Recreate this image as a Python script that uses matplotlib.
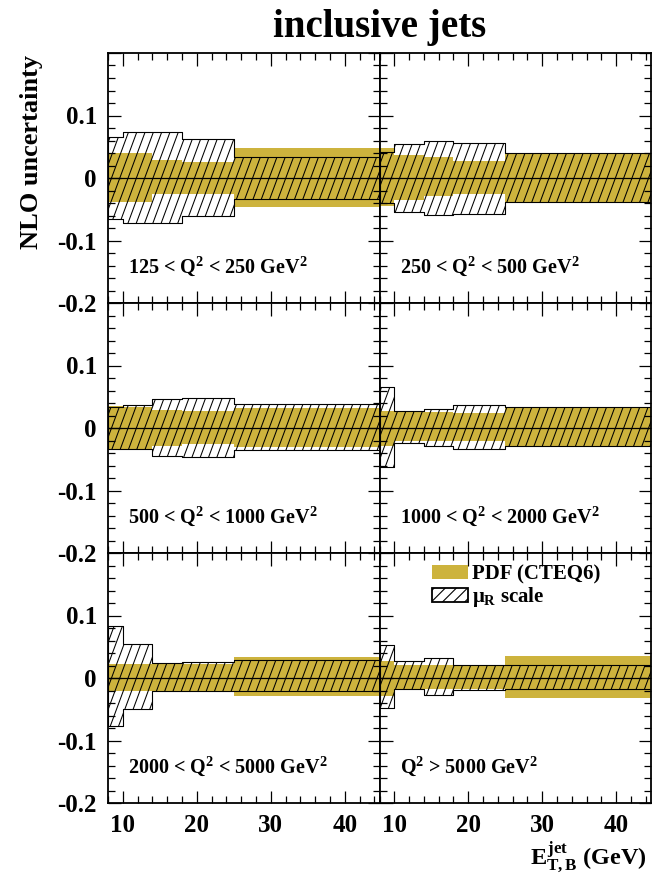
import numpy as np
import matplotlib
matplotlib.use("Agg")
import matplotlib.pyplot as plt
from matplotlib.patches import Patch
from matplotlib.collections import LineCollection
from matplotlib.ticker import MultipleLocator

plt.rcParams['font.family'] = ['Liberation Serif', 'DejaVu Serif']
plt.rcParams['font.weight'] = 'bold'
plt.rcParams['mathtext.fontset'] = 'custom'
plt.rcParams['mathtext.rm'] = 'Liberation Serif:bold'
plt.rcParams['mathtext.it'] = 'Liberation Serif:bold'
plt.rcParams['mathtext.bf'] = 'Liberation Serif:bold'
plt.rcParams['hatch.linewidth'] = 0.8

GOLD = '#cdb33d'

# E_T bin edges (GeV)
edges = [8, 10, 14, 18, 25, 100]

q2_labels = ['125 < Q$^2$ < 250 GeV$^2$', '250 < Q$^2$ < 500 GeV$^2$',
             '500 < Q$^2$ < 1000 GeV$^2$', '1000 < Q$^2$ < 2000 GeV$^2$',
             '2000 < Q$^2$ < 5000 GeV$^2$', 'Q$^2$ > 5000 GeV$^2$']

# renormalisation scale uncertainty
scale_up = [
    [0.065, 0.074, 0.074, 0.062, 0.034],
    [0.042, 0.054, 0.060, 0.056, 0.040],
    [0.033, 0.037, 0.046, 0.048, 0.038],
    [0.065, 0.027, 0.031, 0.037, 0.033],
    [0.083, 0.054, 0.024, 0.026, 0.029],
    [0.053, 0.027, 0.032, 0.021, 0.021],
]
scale_dn = [
    [-0.065, -0.072, -0.072, -0.061, -0.034],
    [-0.040, -0.054, -0.059, -0.057, -0.039],
    [-0.033, -0.034, -0.044, -0.046, -0.035],
    [-0.062, -0.024, -0.028, -0.033, -0.029],
    [-0.077, -0.049, -0.020, -0.020, -0.021],
    [-0.048, -0.017, -0.027, -0.019, -0.018],
]

# PDF (CTEQ6) uncertainty
pdf_up = [
    [0.040, 0.040, 0.029, 0.025, 0.048],
    [0.048, 0.037, 0.034, 0.027, 0.040],
    [0.035, 0.033, 0.029, 0.027, 0.032],
    [0.027, 0.027, 0.026, 0.024, 0.032],
    [0.023, 0.023, 0.023, 0.023, 0.033],
    [0.028, 0.021, 0.021, 0.021, 0.036],
]
pdf_dn = [
    [-0.038, -0.038, -0.025, -0.025, -0.046],
    [-0.045, -0.035, -0.029, -0.025, -0.039],
    [-0.033, -0.033, -0.028, -0.026, -0.031],
    [-0.028, -0.021, -0.021, -0.021, -0.028],
    [-0.020, -0.020, -0.020, -0.020, -0.028],
    [-0.028, -0.017, -0.017, -0.017, -0.032],
]

ytick_vals = [-0.2, -0.1, 0, 0.1, 0.2]
ytick_text = ['-0.2', '-0.1', '0', '0.1', '']

W, H = 652., 876.
col_x = [108, 379.5]
row_y = [303, 553, 803]
pw, ph = 271.5, 250.


def hatch_band(ax, x, lo, hi, spacing=8.3, slope=2.7):
    # outline of the band, then steep hatch lines clipped to it
    poly = ax.fill_between(x, lo, hi, step='post', facecolor='none',
                           edgecolor='k', lw=0.8, zorder=2)
    dx = spacing / pw
    run = (ph / slope) / pw
    starts = np.arange(-run, 1 + dx, dx)
    segs = [[(s, 0), (s + run, 1)] for s in starts]
    lc = LineCollection(segs, colors='k', linewidths=0.75,
                        transform=ax.transAxes, zorder=2)
    ax.add_collection(lc, autolim=False)
    lc.set_clip_path(poly.get_paths()[0], poly.get_transform())


fig = plt.figure(figsize=(6.52, 8.76), dpi=100)

for i in range(6):
    r, c = i // 2, i % 2
    ax = fig.add_axes([col_x[c] / W, (H - row_y[r]) / H, pw / W, ph / H])

    x = np.array(edges)
    pu = np.r_[pdf_up[i], pdf_up[i][-1]]
    pd = np.r_[pdf_dn[i], pdf_dn[i][-1]]
    su = np.r_[scale_up[i], scale_up[i][-1]]
    sd = np.r_[scale_dn[i], scale_dn[i][-1]]

    ax.fill_between(x, pd, pu, step='post', color=GOLD, lw=0, zorder=1)
    hatch_band(ax, x, sd, su)
    ax.axhline(0, color='k', lw=0.9, zorder=3)

    ax.set_xlim(8, 44.7)
    ax.set_ylim(-0.2, 0.2)
    ax.xaxis.set_major_locator(MultipleLocator(10))
    ax.xaxis.set_minor_locator(MultipleLocator(2))
    ax.set_yticks(ytick_vals)
    ax.yaxis.set_minor_locator(MultipleLocator(0.02))
    ax.tick_params(which='both', direction='in', top=True, right=True, width=0.9)
    ax.tick_params(which='major', length=9)
    ax.tick_params(which='minor', length=5)
    ax.tick_params(labelsize=18, pad=8)
    for sp in ax.spines.values():
        sp.set_linewidth(1.3)

    if c == 0:
        ax.set_yticklabels(ytick_text)
    else:
        ax.set_yticklabels([])
    if r < 2:
        ax.set_xticklabels([])
    for lab in ax.get_xticklabels() + ax.get_yticklabels():
        lab.set_fontweight('bold')

    ax.text(0.074, 0.121, q2_labels[i], transform=ax.transAxes,
            fontsize=14.5, fontweight='bold', ha='left', va='baseline', zorder=4)

    if i == 5:
        handles = [Patch(facecolor=GOLD, edgecolor='none'),
                   Patch(facecolor='white', edgecolor='k', hatch='///', lw=1.3)]
        ax.legend(handles, ['PDF (CTEQ6)', r'$\mu_R$ scale'], loc='upper left',
                  bbox_to_anchor=(0.192, 0.955), frameon=False, fontsize=15,
                  handlelength=1.76, handleheight=0.72, handletextpad=0.2,
                  labelspacing=0.05, borderpad=0, borderaxespad=0)

fig.text(380 / W, 1 - 37 / H, 'inclusive jets', fontsize=28, fontweight='bold',
         ha='center', va='baseline')
fig.text(32 / W, 1 - 152 / H, 'NLO uncertainty', fontsize=19, fontweight='bold',
         rotation=90, ha='center', va='center')
fig.text(647 / W, 1 - 864 / H, r'$E^{jet}_{T,B}$ (GeV)', fontsize=17.5,
         fontweight='bold', ha='right', va='baseline')

fig.savefig('out.png', dpi=100)
